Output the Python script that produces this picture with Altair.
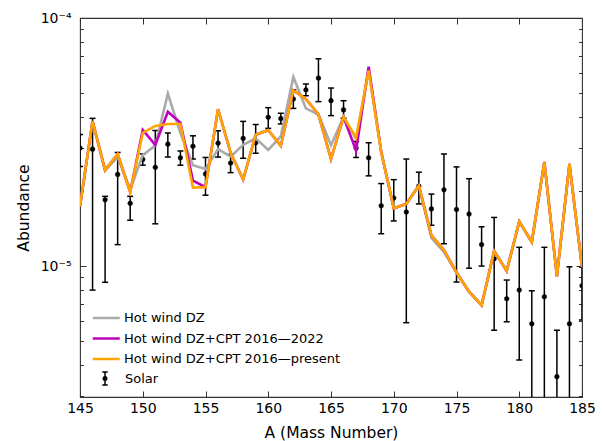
import altair as alt
import pandas as pd

# ---------------- data ----------------
mass = list(range(145, 186))

hot_wind = [1.74e-5, 3.84e-5, 2.43e-5, 2.75e-5, 2.03e-5, 2.80e-5, 3.06e-5, 4.96e-5, 3.44e-5, 2.55e-5,
            2.46e-5, 2.96e-5, 2.76e-5, 3.08e-5, 3.27e-5, 2.94e-5, 3.33e-5, 5.78e-5, 4.32e-5, 4.08e-5,
            3.07e-5, 3.99e-5, 3.25e-5, 6.14e-5, 2.89e-5, 1.71e-5, 1.78e-5, 2.11e-5, 1.30e-5, 1.14e-5,
            9.42e-6, 7.88e-6, 6.95e-6, 1.15e-5, 9.56e-6, 1.51e-5, 1.25e-5, 2.63e-5, 9.09e-6, 2.58e-5,
            9.9e-6]

cpt_2022 = [1.74e-5, 3.84e-5, 2.43e-5, 2.83e-5, 1.99e-5, 3.54e-5, 3.08e-5, 4.19e-5, 3.78e-5, 2.21e-5,
            2.08e-5, 4.29e-5, 2.86e-5, 2.23e-5, 3.38e-5, 3.53e-5, 3.05e-5, 5.11e-5, 4.72e-5, 4.09e-5,
            2.70e-5, 3.99e-5, 2.92e-5, 6.37e-5, 2.89e-5, 1.71e-5, 1.78e-5, 2.11e-5, 1.33e-5, 1.16e-5,
            9.42e-6, 7.88e-6, 6.95e-6, 1.15e-5, 9.56e-6, 1.51e-5, 1.25e-5, 2.63e-5, 9.09e-6, 2.58e-5,
            9.9e-6]

cpt_present = [1.74e-5, 3.84e-5, 2.43e-5, 2.83e-5, 1.99e-5, 3.44e-5, 3.67e-5, 3.74e-5, 3.74e-5, 2.07e-5,
               2.08e-5, 4.29e-5, 2.86e-5, 2.23e-5, 3.38e-5, 3.53e-5, 3.05e-5, 5.11e-5, 4.72e-5, 4.09e-5,
               2.70e-5, 3.99e-5, 3.29e-5, 6.14e-5, 2.89e-5, 1.71e-5, 1.78e-5, 2.11e-5, 1.33e-5, 1.16e-5,
               9.42e-6, 7.88e-6, 6.95e-6, 1.15e-5, 9.56e-6, 1.51e-5, 1.25e-5, 2.63e-5, 9.09e-6, 2.58e-5,
               9.9e-6]

solar = [2.99e-5, 2.96e-5, 1.85e-5, 2.34e-5, 1.79e-5, 2.69e-5, 2.50e-5, 3.10e-5, 2.73e-5, 3.04e-5,
         2.35e-5, 3.13e-5, 2.60e-5, 3.27e-5, 3.14e-5, 3.98e-5, 3.93e-5, 4.71e-5, 5.13e-5, 5.72e-5,
         4.64e-5, 4.26e-5, 2.99e-5, 2.73e-5, 1.75e-5, 1.88e-5, 1.65e-5, 2.10e-5, 1.70e-5, 2.03e-5,
         1.69e-5, 1.62e-5, 1.22e-5, 1.07e-5, 7.38e-6, 8.0e-6, 5.85e-6, 7.52e-6, 3.58e-6, 5.85e-6,
         8.33e-6]

solar_hi = [3.39e-5, 3.94e-5, 1.91e-5, 2.87e-5, 1.91e-5, 2.83e-5, 3.52e-5, 3.44e-5, 2.91e-5, 3.35e-5,
            2.74e-5, 3.51e-5, 2.82e-5, 3.83e-5, 3.72e-5, 4.35e-5, 4.13e-5, 5.13e-5, 5.42e-5, 6.85e-5,
            5.22e-5, 4.64e-5, 3.18e-5, 3.14e-5, 2.15e-5, 2.23e-5, 2.70e-5, 2.39e-5, 1.95e-5, 2.83e-5,
            2.51e-5, 2.25e-5, 1.44e-5, 1.57e-5, 8.78e-6, 1.19e-5, 7.95e-6, 1.19e-5, 5.51e-6, 9.93e-6,
            9.9e-6]

solar_lo = [2.52e-5, 8.0e-6, 8.6e-6, 1.22e-5, 1.53e-5, 2.55e-5, 1.48e-5, 2.75e-5, 2.55e-5, 2.70e-5,
            1.93e-5, 2.75e-5, 2.38e-5, 2.72e-5, 2.85e-5, 3.59e-5, 3.74e-5, 4.32e-5, 4.86e-5, 4.60e-5,
            4.04e-5, 3.95e-5, 2.74e-5, 2.31e-5, 1.35e-5, 1.52e-5, 5.91e-6, 1.78e-5, 1.46e-5, 1.23e-5,
            8.62e-6, 9.8e-6, 1.00e-5, 5.51e-6, 5.96e-6, 4.18e-6, 1.5e-6, 1.5e-6, 1.0e-6, 1.5e-6,
            6.06e-6]

series_names = ["Hot wind DZ", "Hot wind DZ+CPT 2016\u20142022", "Hot wind DZ+CPT 2016\u2014present"]
series_colors = ["#aaaaaa", "#bf00bf", "#ffa500"]
solar_name = "Solar"

x_ticks = [145, 150, 155, 160, 165, 170, 175, 180, 185]
y_major = [1e-5, 1e-4]
y_minor = [3e-6, 4e-6, 5e-6, 6e-6, 7e-6, 8e-6, 9e-6,
           2e-5, 3e-5, 4e-5, 5e-5, 6e-5, 7e-5, 8e-5, 9e-5]

# ---------------- tables ----------------
rows = []
for name, vals in zip(series_names, [hot_wind, cpt_2022, cpt_present]):
    for a, v in zip(mass, vals):
        rows.append({"A": a, "value": v, "series": name})
lines_df = pd.DataFrame(rows)

solar_df = pd.DataFrame({"A": mass, "val": solar, "hi": solar_hi, "lo": solar_lo,
                         "obs": [solar_name] * len(mass)})

# ---------------- scales / axes ----------------
X_SCALE = alt.Scale(domain=[145, 185], nice=False, zero=False)
Y_SCALE = alt.Scale(type="log", domain=[2.965e-6, 1e-4], nice=False)

MAJ = 6
MIN = 3.5

x_bottom = alt.Axis(orient="bottom", values=x_ticks, format="d", tickSize=MAJ, offset=-MAJ,
                    labelPadding=4, labelFlush=False, grid=False,
                    title="A (Mass Number)", titlePadding=10)
x_top = alt.Axis(orient="top", values=x_ticks, tickSize=MAJ, offset=-MAJ, labels=False,
                 grid=False, title=None)
y_left_major = alt.Axis(orient="left", values=y_major, tickSize=MAJ, offset=-MAJ, labelPadding=9,
                        labelFlush=False, grid=False,
                        labelExpr="datum.value > 5e-5 ? '10\u207b\u2074' : '10\u207b\u2075'",
                        title="Abundance", titlePadding=9)
y_left_minor = alt.Axis(orient="left", values=y_minor, tickSize=MIN, offset=-MIN, labels=False,
                        grid=False, title=None)
y_right_major = alt.Axis(orient="right", values=y_major, tickSize=MAJ, offset=-MAJ, labels=False,
                         grid=False, title=None)
y_right_minor = alt.Axis(orient="right", values=y_minor, tickSize=MIN, offset=-MIN, labels=False,
                         grid=False, title=None)

# line symbol: a long horizontal stroke (drawn wider than its nominal box)
line_path = "M-2,0L2,0"
line_legend = alt.Legend(orient="none", legendX=18.25, legendY=292, direction="vertical", title=None,
                         symbolType=line_path, symbolSize=182, symbolStrokeWidth=2.5,
                         labelOffset=9.75, rowPadding=5.5, padding=0, labelFontSize=13,
                         labelFont="DejaVu Sans", labelColor="black", labelLimit=0)

errbar_path = ("M0,-1L0,1M-0.42,-1L0.42,-1M-0.42,1L0.42,1"
               "M0.27,0A0.27,0.27,0,1,1,-0.27,0A0.27,0.27,0,1,1,0.27,0Z")
solar_legend = alt.Legend(orient="none", legendX=17.5, legendY=353, direction="vertical", title=None,
                          symbolType=errbar_path, symbolSize=169, symbolStrokeWidth=1.5,
                          symbolStrokeColor="black", symbolFillColor="black",
                          labelOffset=12.5, padding=0, labelFontSize=13,
                          labelFont="DejaVu Sans", labelColor="black", labelLimit=0)

color_enc = alt.Color("series:N", scale=alt.Scale(domain=series_names, range=series_colors),
                      legend=line_legend)


def line_layer(name, xaxis, yaxis):
    return (alt.Chart(lines_df)
            .transform_filter(alt.datum.series == name)
            .mark_line(strokeWidth=2.6, clip=True)
            .encode(x=alt.X("A:Q", scale=X_SCALE, axis=xaxis),
                    y=alt.Y("value:Q", scale=Y_SCALE, axis=yaxis),
                    color=color_enc))


base_solar = alt.Chart(solar_df)

rules = base_solar.mark_rule(color="black", strokeWidth=1.5, clip=True).encode(
    x=alt.X("A:Q", scale=X_SCALE, axis=None),
    y=alt.Y("lo:Q", scale=Y_SCALE, axis=y_right_minor),
    y2="hi:Q")

caps_hi = base_solar.mark_tick(orient="horizontal", size=6, thickness=1.5, color="black",
                               opacity=1, clip=True).encode(
    x=alt.X("A:Q", scale=X_SCALE, axis=None),
    y=alt.Y("hi:Q", scale=Y_SCALE, axis=None))

caps_lo = base_solar.mark_tick(orient="horizontal", size=6, thickness=1.5, color="black",
                               opacity=1, clip=True).encode(
    x=alt.X("A:Q", scale=X_SCALE, axis=None),
    y=alt.Y("lo:Q", scale=Y_SCALE, axis=None))

dots = base_solar.mark_point(filled=True, color="black", size=22, strokeWidth=0.5, opacity=1,
                             clip=True).encode(
    x=alt.X("A:Q", scale=X_SCALE, axis=None),
    y=alt.Y("val:Q", scale=Y_SCALE, axis=None),
    stroke=alt.Stroke("obs:N", scale=alt.Scale(domain=[solar_name], range=["black"]),
                      legend=solar_legend))

chart = alt.layer(
    rules, caps_hi, caps_lo, dots,
    line_layer(series_names[0], x_bottom, y_left_major),
    line_layer(series_names[1], x_top, y_left_minor),
    line_layer(series_names[2], None, y_right_major),
).resolve_axis(x="independent", y="independent").properties(
    width=502, height=379,
    padding={"left": 80, "top": 18, "right": 22, "bottom": 44},
    autosize=alt.AutoSizeParams(type="none"),
    background="white",
).configure_view(
    stroke="#333333", strokeWidth=1.1
).configure_axis(
    domain=False, grid=False, tickColor="#333333", tickWidth=1,
    labelFont="DejaVu Sans", labelFontSize=14, labelColor="black",
    titleFont="DejaVu Sans", titleFontSize=15.5, titleFontWeight="normal", titleColor="black"
)

chart.save("out.html", embed_options={"renderer": "svg", "actions": False})
